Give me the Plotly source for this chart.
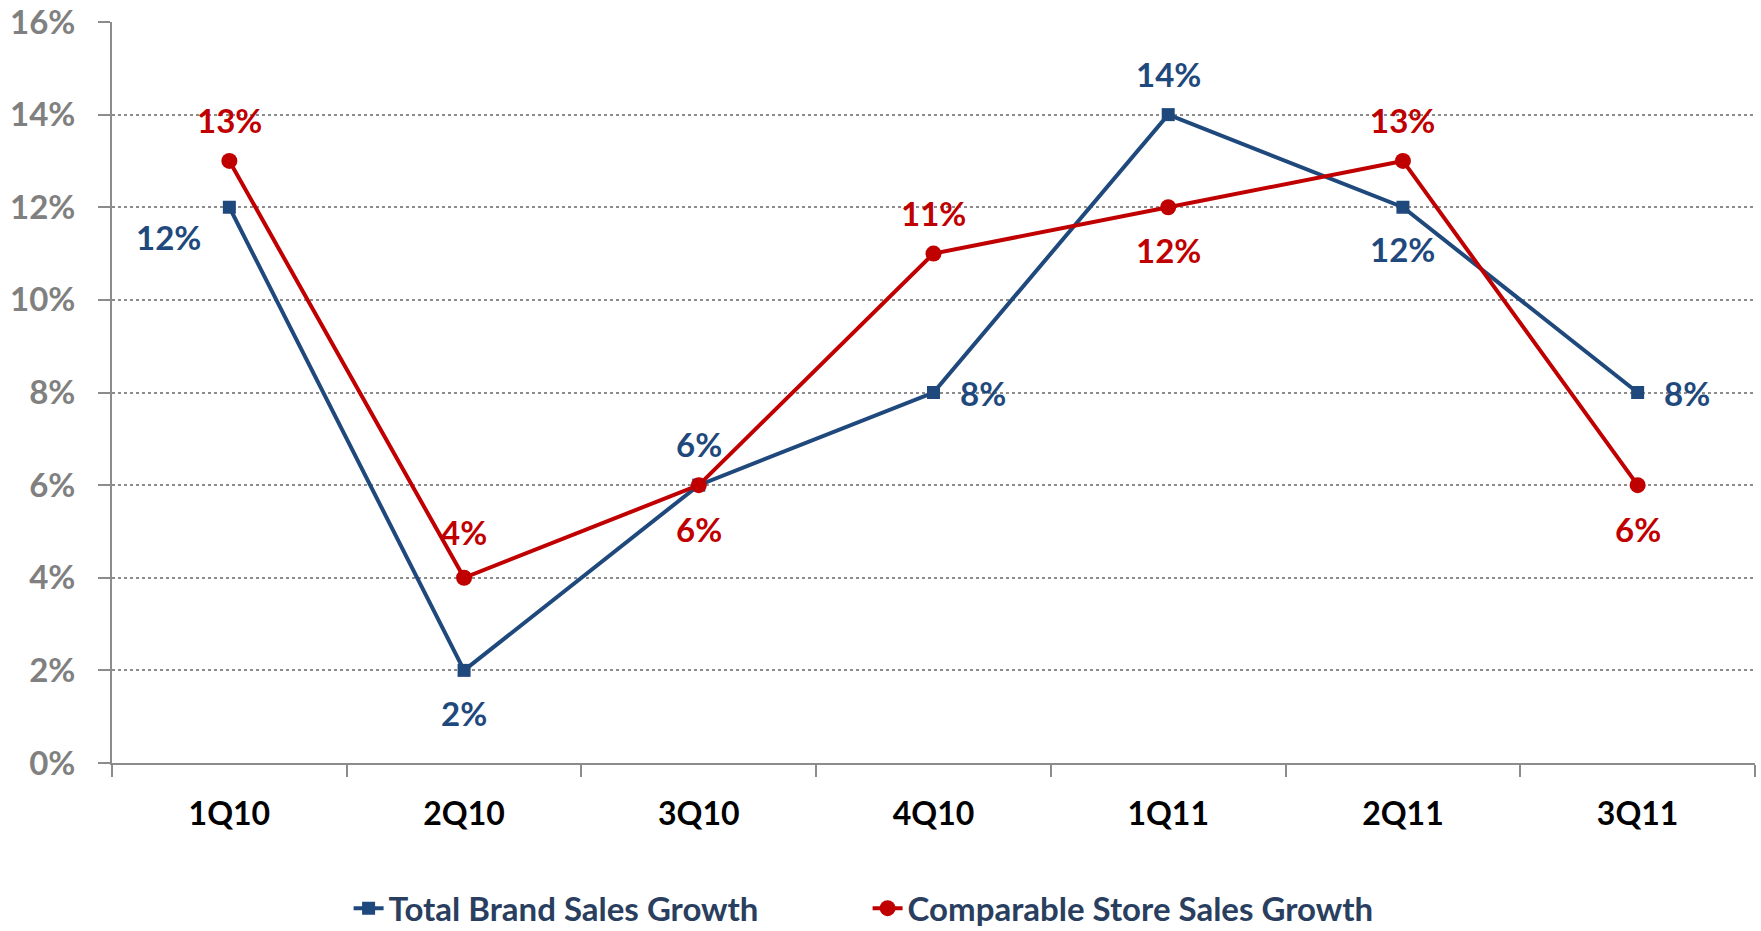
import plotly.graph_objects as go

quarters = ["1Q10", "2Q10", "3Q10", "4Q10", "1Q11", "2Q11", "3Q11"]
total_brand = [0.12, 0.02, 0.06, 0.08, 0.14, 0.12, 0.08]
comparable_store = [0.13, 0.04, 0.06, 0.11, 0.12, 0.13, 0.06]
y_ticks = [0, 0.02, 0.04, 0.06, 0.08, 0.10, 0.12, 0.14, 0.16]

BLUE = "#1F497D"
RED = "#C00000"
FONT = "Lato"
LBL = 33

# label placement (style only): (xshift, yshift, xanchor)
blue_off = [(-61, -30, "center"), (0, -43, "center"), (0, 41, "center"), (24, 0, "left"),
            (0, 41, "center"), (0, -42, "center"), (24, 0, "left")]
red_off = [(0, 41, "center"), (0, 46, "center"), (0, -44, "center"), (0, 41, "center"),
           (0, -43, "center"), (0, 41, "center"), (0, -44, "center")]

fig = go.Figure()
fig.add_trace(go.Scatter(
    x=quarters, y=total_brand, name="Total Brand Sales Growth",
    mode="lines+markers",
    line=dict(color=BLUE, width=4),
    marker=dict(symbol="square", size=13, color=BLUE),
    cliponaxis=False,
))
fig.add_trace(go.Scatter(
    x=quarters, y=comparable_store, name="Comparable Store Sales Growth",
    mode="lines+markers",
    line=dict(color=RED, width=4),
    marker=dict(symbol="circle", size=16, color=RED),
    cliponaxis=False,
))

for series, offs, col in ((total_brand, blue_off, BLUE), (comparable_store, red_off, RED)):
    for q, v, (dx, dy, xa) in zip(quarters, series, offs):
        fig.add_annotation(
            x=q, y=v, text=f"{v*100:.0f}%", showarrow=False,
            xshift=dx, yshift=dy, xanchor=xa, yanchor="middle",
            font=dict(family=FONT, size=LBL, color=col, weight="bold"),
        )

fig.update_layout(
    width=1761, height=931,
    margin=dict(l=112, r=6, t=22, b=168, autoexpand=False),
    plot_bgcolor="white", paper_bgcolor="white",
    font=dict(family=FONT),
    showlegend=True,
    legend=dict(
        orientation="h", x=0.144, y=-0.196, xanchor="left", yanchor="middle",
        font=dict(family=FONT, size=33, weight="bold"),
        tracegroupgap=0,
        entrywidth=474,
    ),
)
fig.update_xaxes(
    type="category", range=[-0.5, len(quarters) - 0.5],
    showgrid=False, showline=True, linecolor="#8C8C8C", linewidth=2,
    ticks="outside", tickson="boundaries", ticklen=12, tickcolor="#8C8C8C", tickwidth=2,
    tickfont=dict(family=FONT, size=32, color="black", weight="bold"),
    ticklabelstandoff=22, automargin=False,
)
fig.update_yaxes(
    range=[0, 0.16], tickvals=y_ticks, tickformat=".0%",
    showgrid=True, gridcolor="#8C8C8C", griddash="dot", gridwidth=1.5,
    showline=True, linecolor="#8C8C8C", linewidth=2,
    ticks="outside", ticklen=12, tickcolor="#8C8C8C", tickwidth=2,
    tickfont=dict(family=FONT, size=33, color="#808080", weight="bold"),
    ticklabelstandoff=16, automargin=False, ticklabeloverflow="allow",
    zeroline=False,
)

fig.write_html(
    "out.html",
    config={"displayModeBar": False},
    post_script="document.body.style.margin='0';document.body.style.overflow='hidden';",
)
